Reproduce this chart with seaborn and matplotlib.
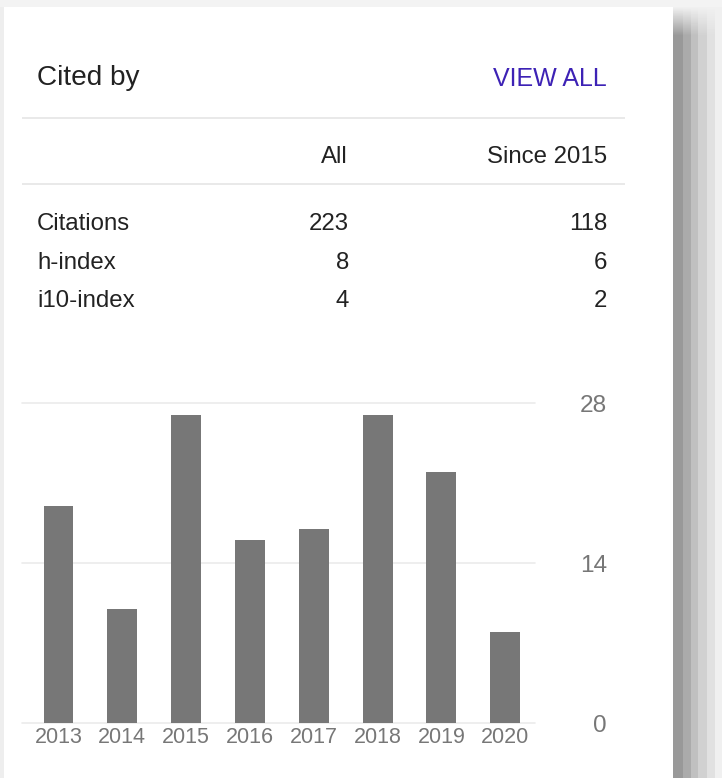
import numpy as np
import pandas as pd
import matplotlib
matplotlib.use("Agg")
import matplotlib.pyplot as plt
import seaborn as sns

# Citation summary data
years = ["2013", "2014", "2015", "2016", "2017", "2018", "2019", "2020"]
citations_per_year = [19, 10, 27, 16, 17, 27, 22, 8]
y_ticks = [0, 14, 28]

metric_names = ["Citations", "h-index", "i10-index"]
metric_all = ["223", "8", "4"]
metric_since = ["118", "6", "2"]
column_headers = ["All", "Since 2015"]

sns.set_style("white")
plt.rcParams["font.family"] = ["Liberation Sans", "DejaVu Sans"]

W, H = 722, 778
fig = plt.figure(figsize=(W / 100, H / 100), dpi=100)

# Background panel: page, white card and a soft drop shadow on the right
bg = fig.add_axes([0, 0, 1, 1])
shade = np.full((H, W), 0.94)
card_l, card_t, card_r = 4, 7, 673
shade[card_t:, card_l:card_r] = 1.0
steps = [(673, 683, 0.60), (683, 691, 0.67), (691, 698, 0.75),
         (698, 707, 0.82), (707, 715, 0.88), (715, 722, 0.94)]
for x0, x1, v in steps:
    for y in range(card_t, H):
        t = min(1.0, (y - card_t) / 28.0)
        shade[y, x0:x1] = 0.94 + (v - 0.94) * t
shade[:card_t, :] = 0.95
shade[card_t:, :card_l] = 0.93
bg.imshow(shade, cmap="gray", vmin=0, vmax=1, extent=(0, W, H, 0),
          interpolation="nearest", aspect="auto")
bg.set_xlim(0, W)
bg.set_ylim(H, 0)
bg.axis("off")

dark = "#222222"
# Header
bg.text(37, 85, "Cited by", fontsize=20.2, color=dark, ha="left", va="baseline")
bg.text(607, 86, "VIEW ALL", fontsize=18, color="#3d22b5", ha="right", va="baseline")
for yy in (118, 184):
    bg.plot([22, 625], [yy, yy], color="#e3e3e3", lw=1.1, solid_capstyle="butt")

# Column headers
bg.text(348, 163, column_headers[0], fontsize=17.3, color=dark, ha="right", va="baseline")
bg.text(607, 163, column_headers[1], fontsize=17.3, color=dark, ha="right", va="baseline")

# Metric rows
for name, a, s, yb in zip(metric_names, metric_all, metric_since, (230, 269, 307)):
    bg.text(37, yb, name, fontsize=17.3, color=dark, ha="left", va="baseline")
    bg.text(349, yb, a, fontsize=17.3, color=dark, ha="right", va="baseline")
    bg.text(607, yb, s, fontsize=17.3, color=dark, ha="right", va="baseline")

# Bar chart of citations per year
ax_left, ax_right = 22, 535
ax_bottom, ax_top = 723.3, 403.3
ax = fig.add_axes([ax_left / W, 1 - ax_bottom / H,
                   (ax_right - ax_left) / W, (ax_bottom - ax_top) / H])
ax.set_facecolor("none")
df = pd.DataFrame({"year": years, "count": citations_per_year})
sns.barplot(data=df, x="year", y="count", color="#777777", saturation=1,
            width=0.47, linewidth=0, ax=ax)
ax.set_xlim(-0.572, 7.468)
ax.set_ylim(0, 28)
ax.set_yticks(y_ticks)
ax.set_yticklabels([str(t) for t in y_ticks])
ax.set_xlabel("")
ax.set_ylabel("")
for sp in ax.spines.values():
    sp.set_visible(False)
ax.yaxis.grid(True, color="#ebebeb", lw=1.2)
ax.xaxis.grid(False)
ax.set_axisbelow(True)
for gl in ax.get_ygridlines():
    gl.set_clip_on(False)
ax.yaxis.tick_right()
ax.tick_params(axis="y", length=0, pad=51.8, labelsize=17.6, labelcolor="#777777")
for lab in ax.get_yticklabels():
    lab.set_horizontalalignment("right")
ax.tick_params(axis="x", length=0, pad=3, labelsize=15.5, labelcolor="#777777")

fig.savefig("out.png", dpi=100)
